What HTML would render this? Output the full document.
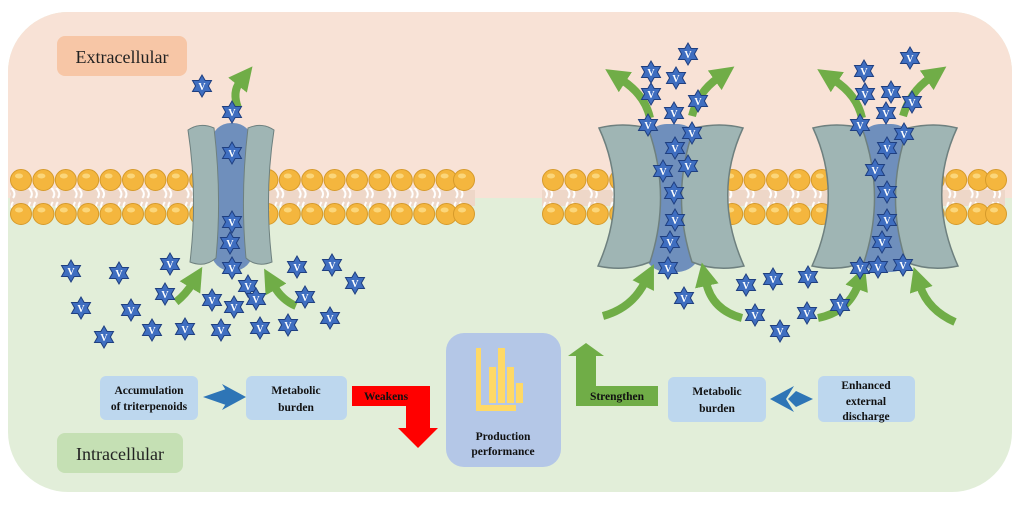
<!DOCTYPE html>
<html><head><meta charset="utf-8"><style>
body{margin:0;width:1022px;height:504px;overflow:hidden;background:#fff}
svg text{font-family:"Liberation Serif",serif}
</style></head><body>
<svg width="1022" height="504" viewBox="0 0 1022 504" xmlns="http://www.w3.org/2000/svg">
<defs>
<clipPath id="cl"><rect x="8" y="12" width="1004" height="480" rx="60"/></clipPath>
<polygon id="st" points="0,-11 3.2,-5.5 9.5,-5.5 6.4,0 9.5,5.5 3.2,5.5 0,11 -3.2,5.5 -9.5,5.5 -6.4,0 -9.5,-5.5 -3.2,-5.5" fill="#3f6ec0" stroke="#1f3f80" stroke-width="1"/>
<g id="lip"><circle r="10.5" fill="#f4b63e" stroke="#d69a2a" stroke-width="1"/><ellipse cx="-2" cy="-4" rx="4" ry="2.5" fill="#fbd67a"/></g>
<marker id="ah" markerUnits="userSpaceOnUse" markerWidth="24" markerHeight="24" refX="4" refY="12" orient="auto"><polygon points="0,0 24,12 0,24" fill="#70ad47"/></marker>
<pattern id="tails" x="0" y="0" width="22.4" height="20" patternUnits="userSpaceOnUse"><path d="M8,2 q-3,4 0,8 q3,4 0,8 M13,2 q-3,4 0,8 q3,4 0,8" stroke="#fff" stroke-width="2" fill="none"/></pattern>
<g id="mrow">
<use href="#lip" x="21"/><use href="#lip" x="43.4"/><use href="#lip" x="65.8"/><use href="#lip" x="88.2"/><use href="#lip" x="110.6"/><use href="#lip" x="133"/><use href="#lip" x="155.4"/><use href="#lip" x="177.8"/><use href="#lip" x="200.2"/><use href="#lip" x="222.6"/><use href="#lip" x="245"/><use href="#lip" x="267.4"/><use href="#lip" x="289.8"/><use href="#lip" x="312.2"/><use href="#lip" x="334.6"/><use href="#lip" x="357"/><use href="#lip" x="379.4"/><use href="#lip" x="401.8"/><use href="#lip" x="424.2"/><use href="#lip" x="446.6"/><use href="#lip" x="464"/>
</g>
</defs>
<g clip-path="url(#cl)">
<rect x="0" y="0" width="1022" height="504" fill="#e2eed9"/>
<rect x="0" y="0" width="1022" height="198" fill="#f8e2d6"/>
<rect x="10" y="190" width="465" height="16" fill="#eed7c8"/>
<rect x="10" y="188" width="465" height="20" fill="url(#tails)"/>
<rect x="542" y="190" width="463" height="16" fill="#eed7c8"/>
<rect x="542" y="188" width="463" height="20" fill="url(#tails)"/>
<use href="#mrow" y="180"/><use href="#mrow" y="214"/>
<use href="#mrow" x="532" y="180"/><use href="#mrow" x="532" y="214"/>
<rect x="211" y="123" width="42" height="148" rx="20" fill="#6f8fbc"/>
<path d="M188,130 Q200,122 214,128 Q222,195 216,258 Q205,268 190,262 Q198,195 188,130Z" fill="#9fb5b4" stroke="#6e807f"/>
<path d="M274,130 Q262,122 248,128 Q240,195 246,258 Q257,268 272,262 Q264,195 274,130Z" fill="#9fb5b4" stroke="#6e807f"/>
<g id="ch">
<rect x="643" y="124" width="58" height="148" rx="24" fill="#6f8fbc"/>
<path d="M599,128 Q622,122 648,128 Q672,195 650,262 Q626,272 598,266 Q630,195 599,128Z" fill="#9fb5b4" stroke="#6e807f" stroke-width="1.5"/>
<path d="M743,128 Q720,122 694,128 Q670,195 692,262 Q716,272 744,266 Q712,195 743,128Z" fill="#9fb5b4" stroke="#6e807f" stroke-width="1.5"/>
</g>
<use href="#ch" x="214"/>
<g fill="none" stroke="#70ad47" stroke-width="8" marker-end="url(#ah)">
<path d="M238,108 Q232,92 240,82"/>
<path d="M176,302 Q186,294 192,284"/>
<path d="M296,306 Q282,300 274,286"/>
<path d="M650,118 Q645,95 622,80"/>
<path d="M692,116 Q698,92 718,78"/>
<path d="M603,316 Q632,308 645,282"/>
<path d="M742,318 Q712,310 706,282"/>
<path d="M818,318 Q848,312 858,285"/>
<path d="M955,322 Q928,310 920,286"/>
<path d="M862,118 Q857,95 834,80"/>
<path d="M903,116 Q910,92 930,78"/>
</g>
<g font-size="10" font-weight="bold" fill="#fff" text-anchor="middle">
<g transform="translate(202,86)"><use href="#st"/><text y="4">V</text></g>
<g transform="translate(232,112)"><use href="#st"/><text y="4">V</text></g>
<g transform="translate(232,153)"><use href="#st"/><text y="4">V</text></g>
<g transform="translate(232,222)"><use href="#st"/><text y="4">V</text></g>
<g transform="translate(230,243)"><use href="#st"/><text y="4">V</text></g>
<g transform="translate(232,268)"><use href="#st"/><text y="4">V</text></g>
<g transform="translate(71,271)"><use href="#st"/><text y="4">V</text></g>
<g transform="translate(119,273)"><use href="#st"/><text y="4">V</text></g>
<g transform="translate(170,264)"><use href="#st"/><text y="4">V</text></g>
<g transform="translate(297,267)"><use href="#st"/><text y="4">V</text></g>
<g transform="translate(332,265)"><use href="#st"/><text y="4">V</text></g>
<g transform="translate(355,283)"><use href="#st"/><text y="4">V</text></g>
<g transform="translate(165,294)"><use href="#st"/><text y="4">V</text></g>
<g transform="translate(212,300)"><use href="#st"/><text y="4">V</text></g>
<g transform="translate(248,286)"><use href="#st"/><text y="4">V</text></g>
<g transform="translate(256,299)"><use href="#st"/><text y="4">V</text></g>
<g transform="translate(234,307)"><use href="#st"/><text y="4">V</text></g>
<g transform="translate(305,297)"><use href="#st"/><text y="4">V</text></g>
<g transform="translate(81,308)"><use href="#st"/><text y="4">V</text></g>
<g transform="translate(131,310)"><use href="#st"/><text y="4">V</text></g>
<g transform="translate(152,330)"><use href="#st"/><text y="4">V</text></g>
<g transform="translate(185,329)"><use href="#st"/><text y="4">V</text></g>
<g transform="translate(221,330)"><use href="#st"/><text y="4">V</text></g>
<g transform="translate(260,328)"><use href="#st"/><text y="4">V</text></g>
<g transform="translate(288,325)"><use href="#st"/><text y="4">V</text></g>
<g transform="translate(330,318)"><use href="#st"/><text y="4">V</text></g>
<g transform="translate(104,337)"><use href="#st"/><text y="4">V</text></g>
<g transform="translate(688,54)"><use href="#st"/><text y="4">V</text></g>
<g transform="translate(651,72)"><use href="#st"/><text y="4">V</text></g>
<g transform="translate(676,78)"><use href="#st"/><text y="4">V</text></g>
<g transform="translate(651,94)"><use href="#st"/><text y="4">V</text></g>
<g transform="translate(698,101)"><use href="#st"/><text y="4">V</text></g>
<g transform="translate(674,113)"><use href="#st"/><text y="4">V</text></g>
<g transform="translate(648,125)"><use href="#st"/><text y="4">V</text></g>
<g transform="translate(692,133)"><use href="#st"/><text y="4">V</text></g>
<g transform="translate(675,148)"><use href="#st"/><text y="4">V</text></g>
<g transform="translate(663,171)"><use href="#st"/><text y="4">V</text></g>
<g transform="translate(688,166)"><use href="#st"/><text y="4">V</text></g>
<g transform="translate(674,193)"><use href="#st"/><text y="4">V</text></g>
<g transform="translate(675,220)"><use href="#st"/><text y="4">V</text></g>
<g transform="translate(670,242)"><use href="#st"/><text y="4">V</text></g>
<g transform="translate(668,268)"><use href="#st"/><text y="4">V</text></g>
<g transform="translate(684,298)"><use href="#st"/><text y="4">V</text></g>
<g transform="translate(746,285)"><use href="#st"/><text y="4">V</text></g>
<g transform="translate(773,279)"><use href="#st"/><text y="4">V</text></g>
<g transform="translate(808,277)"><use href="#st"/><text y="4">V</text></g>
<g transform="translate(755,315)"><use href="#st"/><text y="4">V</text></g>
<g transform="translate(807,313)"><use href="#st"/><text y="4">V</text></g>
<g transform="translate(780,331)"><use href="#st"/><text y="4">V</text></g>
<g transform="translate(840,305)"><use href="#st"/><text y="4">V</text></g>
<g transform="translate(910,58)"><use href="#st"/><text y="4">V</text></g>
<g transform="translate(864,71)"><use href="#st"/><text y="4">V</text></g>
<g transform="translate(865,94)"><use href="#st"/><text y="4">V</text></g>
<g transform="translate(891,92)"><use href="#st"/><text y="4">V</text></g>
<g transform="translate(912,102)"><use href="#st"/><text y="4">V</text></g>
<g transform="translate(886,113)"><use href="#st"/><text y="4">V</text></g>
<g transform="translate(860,125)"><use href="#st"/><text y="4">V</text></g>
<g transform="translate(904,134)"><use href="#st"/><text y="4">V</text></g>
<g transform="translate(887,148)"><use href="#st"/><text y="4">V</text></g>
<g transform="translate(875,170)"><use href="#st"/><text y="4">V</text></g>
<g transform="translate(887,192)"><use href="#st"/><text y="4">V</text></g>
<g transform="translate(887,220)"><use href="#st"/><text y="4">V</text></g>
<g transform="translate(882,242)"><use href="#st"/><text y="4">V</text></g>
<g transform="translate(860,268)"><use href="#st"/><text y="4">V</text></g>
<g transform="translate(878,267)"><use href="#st"/><text y="4">V</text></g>
<g transform="translate(903,265)"><use href="#st"/><text y="4">V</text></g>
</g>
</g>
<rect x="57" y="36" width="130" height="40" rx="8" fill="#f7c6a6"/>
<text x="122" y="63" font-size="18" text-anchor="middle" fill="#222">Extracellular</text>
<rect x="57" y="433" width="126" height="40" rx="8" fill="#c5e0b4"/>
<text x="120" y="460" font-size="18" text-anchor="middle" fill="#222">Intracellular</text>
<g font-size="11.5" font-weight="bold" fill="#111" text-anchor="middle">
<rect x="100" y="376" width="98" height="44" rx="6" fill="#bdd7ee"/>
<text x="149" y="394">Accumulation</text><text x="149" y="410">of triterpenoids</text>
<polygon points="203,397 226,389 234,397 226,405" fill="#2e75b6"/>
<polygon points="222,384 246,397 222,410 230,397" fill="#2e75b6"/>
<rect x="246" y="376" width="101" height="44" rx="6" fill="#bdd7ee"/>
<text x="296" y="394">Metabolic</text><text x="296" y="411">burden</text>
<polygon points="352,386 430,386 430,428 438,428 418,448 398,428 406,428 406,406 352,406" fill="#ff0000"/>
<text x="386" y="400">Weakens</text>
<rect x="446" y="333" width="115" height="134" rx="18" fill="#b4c7e7"/>
<rect x="476" y="348" width="5" height="62" fill="#ffd966"/>
<rect x="476" y="405" width="40" height="6" fill="#ffd966"/>
<rect x="489" y="367" width="7" height="36" fill="#ffd966"/>
<rect x="498" y="348" width="7" height="55" fill="#ffd966"/>
<rect x="507" y="367" width="7" height="36" fill="#ffd966"/>
<rect x="516" y="383" width="7" height="20" fill="#ffd966"/>
<text x="503" y="440">Production</text><text x="503" y="455">performance</text>
<polygon points="576,406 576,356 568,356 586,343 604,356 596,356 596,386 658,386 658,406" fill="#70ad47"/>
<text x="617" y="400">Strengthen</text>
<rect x="668" y="377" width="98" height="45" rx="6" fill="#bdd7ee"/>
<text x="717" y="395">Metabolic</text><text x="717" y="412">burden</text>
<polygon points="770,399 794,386 786,399 794,412" fill="#2e75b6"/>
<polygon points="788,399 796,391 813,399 796,407" fill="#2e75b6"/>
<rect x="818" y="376" width="97" height="46" rx="6" fill="#bdd7ee"/>
<text x="866" y="389">Enhanced</text><text x="866" y="405">external</text><text x="866" y="420">discharge</text>
</g>
</svg>
</body></html>
